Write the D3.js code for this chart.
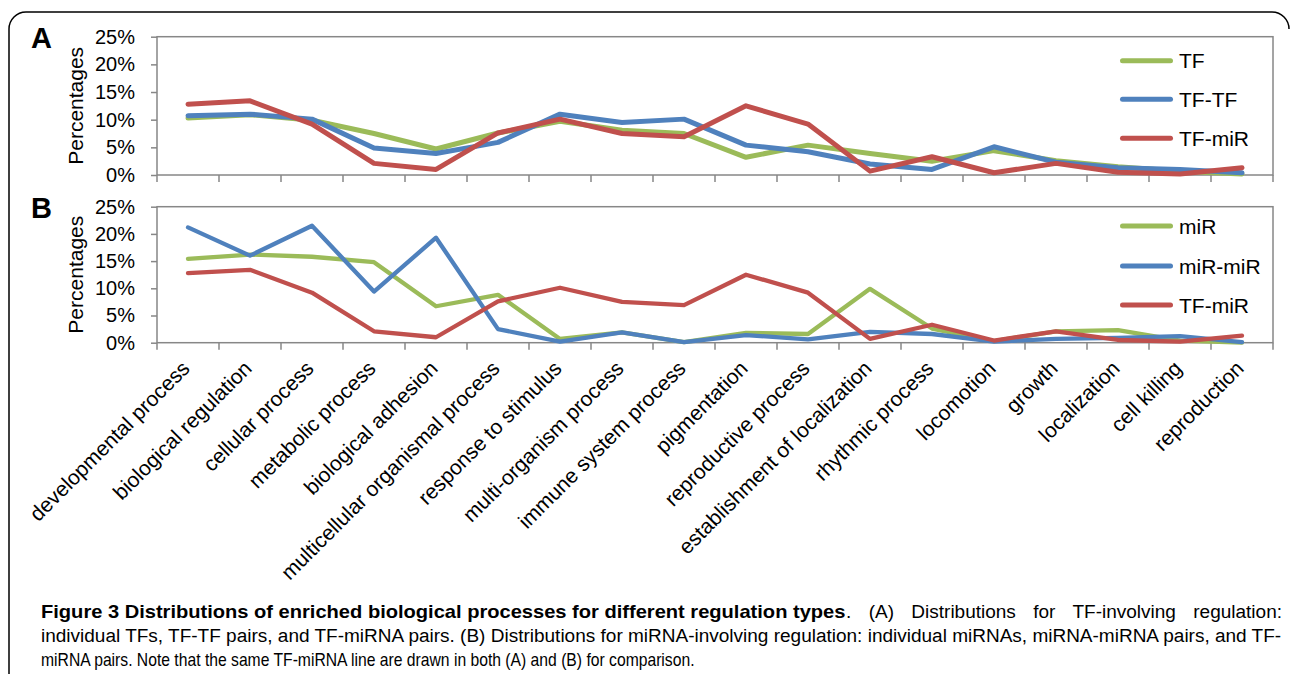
<!DOCTYPE html>
<html>
<head>
<meta charset="utf-8">
<script src="https://cdn.jsdelivr.net/npm/d3@7"></script>
<style>
  html, body { margin: 0; padding: 0; background: #fff; }
  svg { display: block; }
  text { font-family: "Liberation Sans", Arial, sans-serif; fill: #000; }
</style>
</head>
<body>
<svg id="chart" width="1290" height="674"></svg>
<script>
// ---------------- DATA ----------------
const categories = [
  "developmental process", "biological regulation", "cellular process", "metabolic process",
  "biological adhesion", "multicellular organismal process", "response to stimulus",
  "multi-organism process", "immune system process", "pigmentation", "reproductive process",
  "establishment of localization", "rhythmic process", "locomotion", "growth",
  "localization", "cell killing", "reproduction"
];
// Panel A
const seriesTF    = [10.3, 10.9, 9.9, 7.5, 4.7, 7.6, 9.7, 8.1, 7.5, 3.2, 5.4, 3.9, 2.5, 4.4, 2.6, 1.5, 0.7, 0.2];
const seriesTFTF  = [10.7, 11.0, 10.1, 4.9, 3.9, 5.9, 11.0, 9.5, 10.1, 5.4, 4.2, 2.0, 1.0, 5.1, 2.3, 1.3, 1.0, 0.4];
// Shared in both panels
const seriesTFmiR = [12.8, 13.4, 9.2, 2.1, 1.0, 7.6, 10.1, 7.5, 6.9, 12.5, 9.2, 0.7, 3.3, 0.4, 2.1, 0.5, 0.2, 1.3];
// Panel B
const seriesMiR    = [15.4, 16.2, 15.8, 14.8, 6.7, 8.8, 0.7, 1.9, 0.1, 1.8, 1.6, 9.9, 2.6, 0.3, 2.1, 2.3, 0.4, 0.0];
const seriesMiRMiR = [21.2, 16.0, 21.5, 9.4, 19.3, 2.5, 0.2, 1.9, 0.1, 1.4, 0.6, 2.0, 1.6, 0.2, 0.7, 0.9, 1.2, 0.1];

const yTicks = [0, 5, 10, 15, 20, 25];
const legendA = ["TF", "TF-TF", "TF-miR"];
const legendB = ["miR", "miR-miR", "TF-miR"];
const panelLabels = ["A", "B"];
const yTitle = "Percentages";

const captionBold = "Figure 3 Distributions of enriched biological processes for different regulation types";
const captionLine1Rest = ". (A) Distributions for TF-involving regulation:";
const captionLine2 = "individual TFs, TF-TF pairs, and TF-miRNA pairs. (B) Distributions for miRNA-involving regulation: individual miRNAs, miRNA-miRNA pairs, and TF-";
const captionLine3 = "miRNA pairs. Note that the same TF-miRNA line are drawn in both (A) and (B) for comparison.";

// ---------------- STYLE ----------------
const colors = ["#9bbb59", "#4f81bd", "#c0504d"];
const frameColor = "#878787";

const svg = d3.select("#chart");

// outer rounded border (left/top)
svg.append("path")
  .attr("d", "M9,680 V29 A17,17 0 0 1 26,12 H1272 A17,17 0 0 1 1289,29")
  .attr("fill", "none").attr("stroke", "#000").attr("stroke-width", 1.5);

const x = d3.scaleBand().domain(categories).range([157, 1273]);
const bw = x.bandwidth();

const panels = [
  { label: panelLabels[0], top: 36.7, bottom: 175, series: [seriesTF, seriesTFTF, seriesTFmiR], names: legendA, sw: 5, legendY: [60.7, 99.3, 138.3], labelY: 48, showX: false },
  { label: panelLabels[1], top: 206.7, bottom: 342.7, series: [seriesMiR, seriesMiRMiR, seriesTFmiR], names: legendB, sw: 4.3, legendY: [226, 266, 305], labelY: 218, showX: true }
];

panels.forEach(p => {
  const y = d3.scaleLinear().domain([0, 25]).range([p.bottom, p.top]);
  const g = svg.append("g");

  // frame
  g.append("rect")
    .attr("x", x.range()[0]).attr("y", y(25))
    .attr("width", x.range()[1] - x.range()[0]).attr("height", y(0) - y(25))
    .attr("fill", "none").attr("stroke", frameColor).attr("stroke-width", 1.5);

  // y axis
  const ya = g.append("g")
    .attr("transform", `translate(${x.range()[0]},0)`)
    .call(d3.axisLeft(y).tickValues(yTicks).tickFormat(d => d + "%").tickSize(6).tickPadding(16));
  ya.select(".domain").remove();
  ya.selectAll("line").attr("stroke", frameColor).attr("stroke-width", 1.5);
  ya.selectAll("text").style("font-family", '"Liberation Sans", Arial, sans-serif').style("font-size", "20px").attr("fill", "#000");

  // x ticks at band boundaries
  const bounds = categories.map(c => x(c)).concat([x.range()[1]]);
  g.selectAll(".xt").data(bounds).enter().append("line")
    .attr("x1", d => d).attr("x2", d => d)
    .attr("y1", y(0)).attr("y2", y(0) + 7)
    .attr("stroke", frameColor).attr("stroke-width", 1.5);

  // y title
  g.append("text")
    .attr("transform", `translate(83,${(y(0) + y(25)) / 2}) rotate(-90)`)
    .attr("text-anchor", "middle")
    .style("font-size", "21px")
    .text(yTitle);

  // panel label
  g.append("text")
    .attr("x", 31).attr("y", p.labelY)
    .style("font-size", "29px").style("font-weight", "bold")
    .text(p.label);

  // lines
  const line = d3.line().x((d, i) => x(categories[i]) + bw / 2).y(d => y(d));
  p.series.forEach((s, k) => {
    g.append("path").datum(s)
      .attr("d", line)
      .attr("fill", "none").attr("stroke", colors[k])
      .attr("stroke-width", p.sw)
      .attr("stroke-linejoin", "round").attr("stroke-linecap", "round");
  });

  // legend
  p.names.forEach((n, k) => {
    g.append("line")
      .attr("x1", 1122.5).attr("x2", 1170.5)
      .attr("y1", p.legendY[k]).attr("y2", p.legendY[k])
      .attr("stroke", colors[k]).attr("stroke-width", 5).attr("stroke-linecap", "round");
    g.append("text")
      .attr("x", 1179).attr("y", p.legendY[k] + 7.5)
      .style("font-size", "21px")
      .text(n);
  });

  // x labels
  if (p.showX) {
    g.selectAll(".xl").data(categories).enter().append("text")
      .attr("transform", d => `translate(${x(d) + bw / 2 + 3},${y(0) + 27}) rotate(-45)`)
      .attr("text-anchor", "end")
      .style("font-size", "21px")
      .text(d => d);
  }
});

// caption: condensed text, each segment fitted to its span
const capFont = '"Liberation Sans", Arial, sans-serif';
const capSize = 18;
function capText(txt, bold) {
  return svg.append("text")
    .style("font-family", capFont)
    .style("font-size", capSize + "px")
    .style("font-weight", bold ? "bold" : "normal")
    .attr("fill", "#231f20")
    .text(txt);
}
function fit(txt, x0, x1, yb, bold) {
  const t = capText(txt, bold);
  const c = (x1 - x0) / t.node().getComputedTextLength();
  t.attr("transform", `translate(${x0},${yb}) scale(${c},1)`);
  return c;
}
const boldEnd = 846;
const c2 = fit(captionLine2, 41, 1282, 642, false);
fit(captionBold, 41, boldEnd, 618, true);
fit(captionLine3, 41, 695, 666, false);
// rest of line 1: same glyph scale as line 2, justified with word spacing
const r = capText(captionLine1Rest, false);
r.attr("transform", `translate(${boldEnd},618) scale(${c2},1)`);
const wr = r.node().getComputedTextLength();
const nsp = (captionLine1Rest.match(/ /g) || []).length;
r.style("word-spacing", (((1282 - boldEnd) / c2 - wr) / nsp) + "px");
</script>
</body>
</html>
